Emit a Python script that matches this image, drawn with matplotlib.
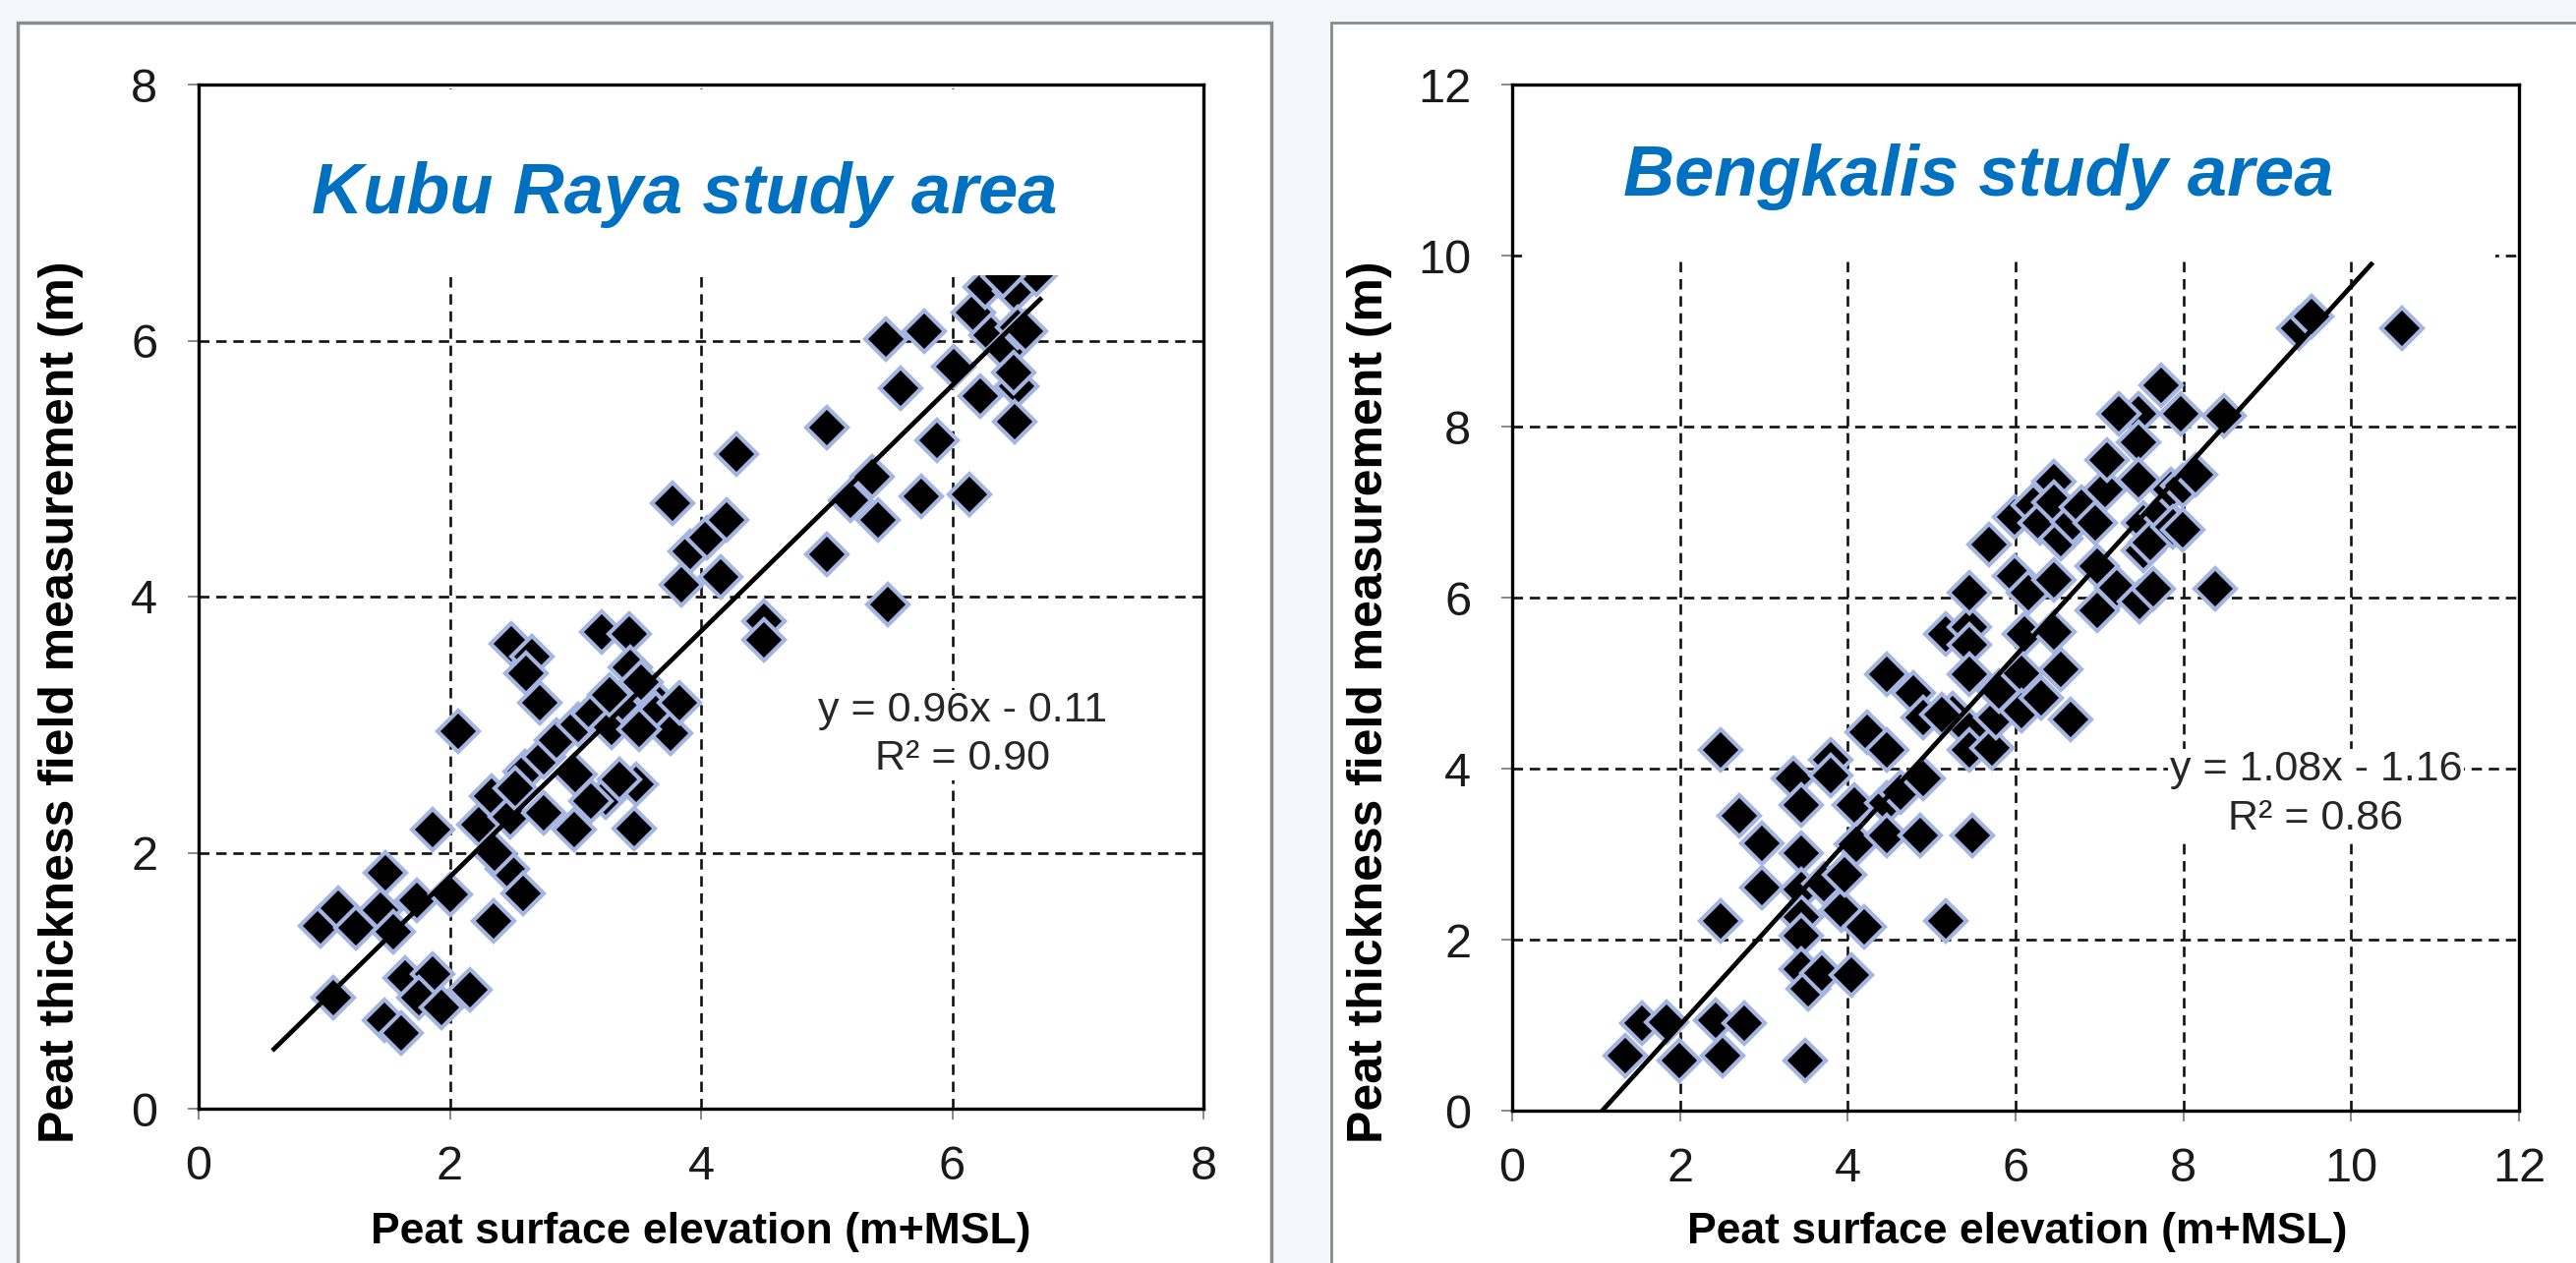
import matplotlib
matplotlib.use('Agg')
import matplotlib.pyplot as plt
from matplotlib.patches import Rectangle
import numpy as np

plt.rcParams['font.family'] = ['Liberation Sans', 'DejaVu Sans']

# Kubu Raya: peat surface elevation (m+MSL) vs. field peat thickness (m)
kr_x = [0.97, 1.11, 1.25, 1.07, 1.49, 1.45, 1.55, 1.74, 2.00, 1.86, 1.48, 1.61, 1.64, 1.86, 1.75,
        1.93, 2.16, 2.07, 2.23, 2.33, 2.48, 2.46, 2.35, 2.58, 2.49, 2.65, 2.61, 2.72, 2.60, 2.75,
        2.75, 2.85, 3.00, 3.02, 2.99, 3.14, 3.21, 3.24, 3.29, 3.37, 3.43, 3.44, 3.48, 3.47, 3.58,
        3.64, 3.76, 3.83, 3.77, 3.84, 3.91, 4.05, 4.20, 4.16, 4.28, 4.50, 4.50, 5.00, 5.00, 5.19,
        5.36, 5.41, 5.49, 5.47, 5.59, 5.78, 5.75, 5.88, 6.01, 6.14, 6.17, 6.26, 6.22, 6.31, 6.43,
        6.50, 6.52, 6.51, 6.50, 6.58, 6.67, 6.40, 6.49, 2.52, 2.36, 3.52, 3.27, 3.51, 3.35, 3.12]
kr_y = [1.43, 1.57, 1.41, 0.87, 1.84, 1.55, 1.38, 1.63, 1.67, 2.18, 0.69, 0.59, 1.02, 1.05, 0.87,
        0.79, 0.93, 2.95, 2.22, 2.44, 2.28, 1.87, 1.47, 1.68, 3.63, 3.53, 3.40, 3.17, 2.63, 2.75,
        2.31, 2.88, 2.61, 3.00, 2.18, 3.09, 3.72, 2.43, 2.98, 3.18, 3.71, 3.45, 2.53, 2.19, 3.25,
        3.09, 2.93, 3.17, 4.73, 4.09, 4.35, 4.46, 4.60, 4.15, 5.11, 3.81, 3.66, 5.32, 4.33, 4.75,
        4.94, 4.60, 3.94, 6.01, 5.63, 6.07, 4.78, 5.22, 5.80, 4.80, 6.22, 6.42, 5.57, 6.04, 5.92,
        6.39, 6.10, 5.64, 5.37, 6.07, 6.52, 6.50, 5.75, 2.50, 2.00, 3.33, 3.23, 2.96, 2.57, 2.40]

# Bengkalis
bk_x = [1.35, 1.55, 1.84, 1.99, 2.43, 2.51, 2.77, 2.48, 2.48, 2.71, 2.98, 2.98, 3.35, 3.45, 3.45,
        3.45, 3.45, 3.45, 3.45, 3.53, 3.69, 3.49, 3.72, 3.80, 3.80, 3.92, 3.96, 4.04, 4.08, 4.10,
        4.20, 4.23, 4.47, 4.47, 4.47, 4.63, 4.86, 4.90, 4.47, 4.78, 4.90, 5.17, 5.17, 5.25, 5.45,
        5.45, 5.45, 5.45, 5.45, 5.49, 5.45, 5.68, 5.72, 5.76, 5.80, 5.99, 5.99, 6.07, 6.07, 6.11,
        6.15, 6.21, 6.29, 6.31, 6.46, 6.46, 6.46, 6.46, 6.54, 6.54, 6.66, 6.68, 6.78, 6.95, 6.97,
        6.97, 7.07, 7.09, 7.21, 7.46, 7.46, 7.46, 7.48, 7.52, 7.52, 7.60, 7.64, 7.73, 7.75, 7.85,
        7.87, 7.97, 7.99, 7.99, 8.15, 8.38, 8.48, 9.38, 9.53, 10.61, 7.23, 5.12]
bk_y = [0.64, 1.02, 1.03, 0.59, 1.06, 0.64, 1.02, 2.22, 4.22, 3.45, 3.13, 2.61, 3.89, 3.57, 3.01,
        2.59, 2.26, 2.05, 1.65, 1.42, 1.61, 0.59, 2.65, 4.10, 3.92, 2.34, 2.76, 1.59, 3.57, 3.11,
        2.15, 4.43, 4.22, 3.60, 3.22, 3.72, 3.22, 3.89, 5.10, 4.89, 4.60, 2.22, 5.58, 4.64, 5.66,
        5.45, 5.10, 4.45, 4.22, 3.22, 6.06, 6.62, 4.24, 4.60, 4.91, 6.94, 6.25, 5.12, 4.68, 5.58,
        6.06, 7.08, 6.87, 4.83, 7.36, 7.12, 6.21, 5.60, 6.69, 5.16, 4.58, 6.88, 7.06, 6.87, 6.37,
        5.85, 7.27, 7.61, 6.12, 8.15, 7.82, 7.38, 5.95, 6.87, 6.55, 6.64, 6.10, 8.48, 6.98, 7.27,
        6.83, 8.15, 7.31, 6.79, 7.44, 6.10, 8.13, 9.15, 9.29, 9.15, 8.15, 4.63]

# trendlines as printed on the chart, with the x span they are drawn over
kr_fit = (0.96, -0.11)
kr_line_x = [0.6, 6.7]
bk_fit = (1.08, -1.16)
bk_line_x = [1.074, 10.24]

titles = ['Kubu Raya study area', 'Bengkalis study area']
eqs = ['y = 0.96x - 0.11\nR\u00b2 = 0.90', 'y = 1.08x - 1.16\nR\u00b2 = 0.86']
xlabel = 'Peat surface elevation (m+MSL)'
ylabel = 'Peat thickness field measurement (m)'

W, H = 2620, 1285
fig = plt.figure(figsize=(W / 100, H / 100), dpi=100, facecolor='#f3f6fa')

# grey panel frames (behind the axes)
fig.patches.append(Rectangle((18 / W, -0.05), (1293 - 18) / W, 1.05 - 23 / H, transform=fig.transFigure,
                             facecolor='white', edgecolor='#8a8a8a', linewidth=2.5, zorder=-5))
fig.patches.append(Rectangle((1354 / W, -0.05), 0.5, 1.05 - 23 / H, transform=fig.transFigure,
                             facecolor='white', edgecolor='#8a8a8a', linewidth=2, zorder=-5))

ax1 = fig.add_axes([202 / W, 1 - 1128 / H, (1224 - 202) / W, (1128 - 86) / H])
ax2 = fig.add_axes([1538 / W, 1 - 1130 / H, (2562 - 1538) / W, (1130 - 86) / H])

panels = [
    (ax1, kr_x, kr_y, kr_fit, kr_line_x, 8, (0.02, 6.51, 7.96, 1.45), (3.87, 7.14), (6.08, 2.92), 0),
    (ax2, bk_x, bk_y, bk_fit, bk_line_x, 12, (0.12, 9.93, 11.6, 2.0), (5.56, 10.92), (9.58, 3.70), 1),
]

for ax, xs, ys, fit, lx, lim, cover, tpos, epos, i in panels:
    ax.set_zorder(1)
    ax.set_facecolor('white')
    ax.set_xlim(0, lim)
    ax.set_ylim(0, lim)
    ax.set_xticks(np.arange(0, lim + 1, 2))
    ax.set_yticks(np.arange(0, lim + 1, 2))
    ax.set_axisbelow(True)
    ax.grid(True, color='#111111', linestyle=(0, (4, 2.6)), linewidth=1.9)
    ax.plot(xs, ys, linestyle='none', marker='D', markersize=21, markerfacecolor='black',
            markeredgecolor='#a3b5e0', markeredgewidth=3, zorder=2)
    lx = np.array(lx)
    ax.plot(lx, fit[0] * lx + fit[1], color='black', linewidth=3.4, zorder=2.1)
    # white title area covering grid and points near the top
    ax.add_patch(Rectangle(cover[:2], cover[2], cover[3], facecolor='white', edgecolor='none', zorder=2.3))
    ax.text(tpos[0], tpos[1], titles[i], ha='center', va='center', fontsize=52, fontweight='bold',
            fontstyle='italic', color='#0070c0', zorder=3)
    ax.text(epos[0], epos[1], eqs[i], ha='center', va='center', multialignment='center', fontsize=31,
            color='#262626', linespacing=1.3, zorder=3,
            bbox=dict(facecolor='white', edgecolor='none', pad=1))
    for s in ax.spines.values():
        s.set_color('black')
        s.set_linewidth(2.4)
    ax.tick_params(direction='out', length=8, width=1.3, color='#808080', labelsize=35,
                   labelcolor='#1a1a1a', top=False, right=False)
    ax.tick_params(axis='x', pad=19)
    ax.tick_params(axis='y', pad=22)

fig.text(713 / W, 1 - 1253 / H, xlabel, ha='center', va='center', fontsize=32, fontweight='bold')
fig.text(2052 / W, 1 - 1253 / H, xlabel, ha='center', va='center', fontsize=32, fontweight='bold')
fig.text(62 / W, 1 - 714 / H, ylabel, ha='center', va='center', rotation=90, fontsize=36, fontweight='bold')
fig.text(1393 / W, 1 - 714 / H, ylabel, ha='center', va='center', rotation=90, fontsize=36, fontweight='bold')

fig.savefig('out.png', dpi=100, facecolor=fig.get_facecolor())
